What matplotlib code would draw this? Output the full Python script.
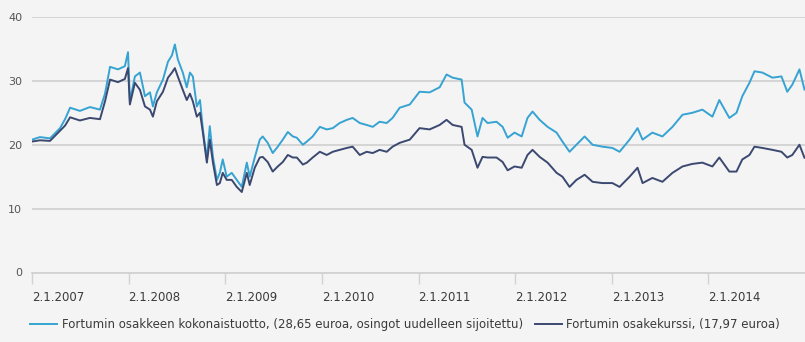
import matplotlib
matplotlib.use("Agg")
import matplotlib.pyplot as plt
import pandas as pd

dates = [
    "2007-01-02", "2007-02-01", "2007-03-11", "2007-04-18", "2007-05-07", "2007-05-26",
    "2007-07-02", "2007-08-09", "2007-09-16", "2007-10-05", "2007-10-24", "2007-11-23",
    "2007-12-19", "2007-12-31", "2008-01-07", "2008-01-26", "2008-02-14", "2008-03-04",
    "2008-03-23", "2008-04-03", "2008-04-18", "2008-05-11", "2008-05-30", "2008-06-14",
    "2008-06-25", "2008-07-06", "2008-07-25", "2008-08-09", "2008-08-21", "2008-09-01",
    "2008-09-16", "2008-09-28", "2008-10-09", "2008-10-24", "2008-11-04", "2008-11-16",
    "2008-12-01", "2008-12-12", "2008-12-23", "2009-01-07", "2009-01-26", "2009-02-14",
    "2009-03-05", "2009-03-24", "2009-04-04", "2009-04-23", "2009-05-12", "2009-05-23",
    "2009-06-11", "2009-06-30", "2009-07-19", "2009-08-07", "2009-08-26", "2009-09-14",
    "2009-09-29", "2009-10-22", "2009-11-06", "2009-11-28", "2009-12-25", "2010-01-20",
    "2010-02-12", "2010-03-10", "2010-04-06", "2010-04-28", "2010-05-25", "2010-06-20",
    "2010-07-13", "2010-08-08", "2010-09-04", "2010-09-26", "2010-10-23", "2010-11-30",
    "2011-01-06", "2011-02-13", "2011-03-23", "2011-04-18", "2011-05-11", "2011-06-14",
    "2011-06-25", "2011-07-22", "2011-08-13", "2011-09-01", "2011-09-20", "2011-10-24",
    "2011-11-16", "2011-12-05", "2011-12-31", "2012-01-27", "2012-02-18", "2012-03-08",
    "2012-04-04", "2012-05-04", "2012-06-07", "2012-06-29", "2012-07-26", "2012-08-21",
    "2012-09-21", "2012-10-21", "2012-11-27", "2013-01-04", "2013-01-31", "2013-03-10",
    "2013-04-09", "2013-04-28", "2013-06-04", "2013-07-12", "2013-08-19", "2013-09-26",
    "2013-11-02", "2013-12-10", "2014-01-17", "2014-02-12", "2014-03-22", "2014-04-18",
    "2014-05-10", "2014-06-06", "2014-06-25", "2014-07-25", "2014-09-01", "2014-10-05",
    "2014-10-27", "2014-11-15", "2014-12-12", "2014-12-31",
]

total_return = [
    20.8, 21.2, 21.0, 22.6, 24.0, 25.8,
    25.3, 25.9, 25.5, 28.0, 32.2, 31.8,
    32.3, 34.5, 26.8, 30.7, 31.3, 27.6,
    28.2, 26.0, 28.2, 30.2, 33.0, 34.0,
    35.7, 33.4, 31.3, 29.0, 31.3, 30.7,
    26.0, 27.0, 22.4, 17.7, 22.9, 18.1,
    14.5, 15.6, 17.7, 15.0, 15.6, 14.5,
    13.4, 17.2, 15.0, 18.0, 20.8, 21.3,
    20.3, 18.7, 19.7, 20.8, 22.0, 21.3,
    21.1, 20.0, 20.5, 21.3, 22.8, 22.4,
    22.6, 23.4, 23.9, 24.2, 23.4, 23.1,
    22.8, 23.6, 23.4, 24.2, 25.8, 26.3,
    28.3, 28.2, 29.0, 31.0, 30.5, 30.2,
    26.6, 25.5, 21.3, 24.2, 23.4, 23.6,
    22.8, 21.1, 21.9, 21.3, 24.2, 25.2,
    23.9, 22.8, 21.9, 20.5, 18.9, 20.0,
    21.3, 20.0, 19.7, 19.5, 18.9, 20.8,
    22.6, 20.8, 21.9, 21.3, 22.8, 24.7,
    25.0, 25.5, 24.4, 27.0, 24.2, 25.0,
    27.6, 29.7, 31.5, 31.3, 30.5, 30.7,
    28.3, 29.4, 31.8, 28.65,
]

share_price = [
    20.5, 20.7, 20.6, 22.2, 23.0, 24.3,
    23.8, 24.2, 24.0, 26.8, 30.2, 29.8,
    30.3, 32.0, 26.3, 29.7, 28.6, 26.0,
    25.5, 24.4, 26.8, 28.3, 30.5, 31.3,
    32.0, 30.7, 28.6, 27.0, 28.0, 26.8,
    24.4, 25.0, 21.9, 17.2, 20.8, 17.2,
    13.7, 14.0, 15.6, 14.5, 14.5, 13.4,
    12.6, 15.6, 13.7, 16.4, 18.0, 18.1,
    17.3, 15.8, 16.6, 17.3, 18.4, 18.0,
    18.0, 16.9, 17.2, 18.0, 18.9, 18.4,
    18.9, 19.2, 19.5, 19.7, 18.4, 18.9,
    18.7, 19.2, 18.9, 19.7, 20.3, 20.8,
    22.6, 22.4, 23.1, 23.9, 23.1, 22.8,
    20.0, 19.2, 16.4, 18.1, 18.0, 18.0,
    17.3, 16.0, 16.6, 16.4, 18.4, 19.2,
    18.1, 17.2, 15.6, 15.0, 13.4, 14.5,
    15.3, 14.2, 14.0, 14.0, 13.4, 15.0,
    16.4, 14.0, 14.8, 14.2, 15.6, 16.6,
    17.0, 17.2, 16.6, 18.0, 15.8, 15.8,
    17.7, 18.4, 19.7, 19.5, 19.2, 18.9,
    18.0, 18.4, 20.0, 17.97,
]

tick_years = list(range(2007, 2015))
tick_labels = [f"2.1.{y}" for y in tick_years]

series_labels = [
    "Fortumin osakkeen kokonaistuotto, (28,65 euroa, osingot uudelleen sijoitettu)",
    "Fortumin osakekurssi, (17,97 euroa)",
]

x = pd.to_datetime(dates)

bg = "#f4f4f4"
fig = plt.figure(figsize=(8.05, 3.42), dpi=100, facecolor=bg)
ax = fig.add_axes([32 / 805, 69.5 / 342, 773 / 805, 255.5 / 342], facecolor=bg)

ax.plot(x, total_return, color="#36a3d3", lw=1.4, label=series_labels[0], zorder=3)
ax.plot(x, share_price, color="#3b4870", lw=1.4, label=series_labels[1], zorder=3)

ax.set_ylim(0, 40)
ax.set_yticks([0, 10, 20, 30, 40])
ax.set_xlim(pd.Timestamp("2007-01-02"), pd.Timestamp("2015-01-02"))
ax.set_xticks(pd.to_datetime([f"{y}-01-02" for y in tick_years]))
ax.set_xticklabels(tick_labels, ha="left")

ax.grid(axis="y", color="#d2d2d2", lw=1.3)
ax.set_axisbelow(True)
for s in ["top", "right", "left"]:
    ax.spines[s].set_visible(False)
ax.spines["bottom"].set_color("#d2d2d2")
ax.spines["bottom"].set_linewidth(1.3)

ax.tick_params(axis="y", length=0, pad=7, labelsize=8, labelcolor="#555555")
ax.tick_params(axis="x", length=8, width=1, color="#d2d2d2", pad=5,
               labelsize=8.5, labelcolor="#3a3a3a")

fig.legend(loc="center", bbox_to_anchor=(0.503, 0.05), ncol=2, frameon=False,
           fontsize=8.5, handlelength=2.3, handletextpad=0.35, columnspacing=1.0,
           labelcolor="#3a3a3a")

plt.savefig("out.png", dpi=100, facecolor=bg)
